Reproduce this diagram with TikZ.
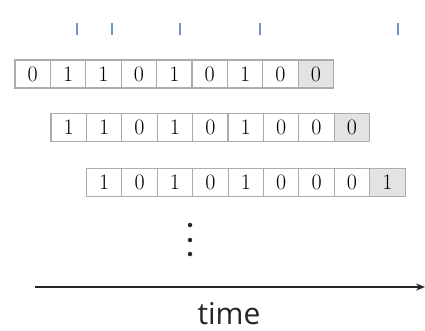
\documentclass[tikz,border=0pt]{standalone}
\usepackage{fontspec}
\newfontfamily\labelfont{Open Sans}
\usetikzlibrary{arrows.meta}
\definecolor{tickblue}{RGB}{110,150,200}
\begin{document}
\begin{tikzpicture}[x=1pt,y=-1pt,
  bitcell/.style={draw=gray!65, line width=1.1pt, minimum width=35.4pt, minimum height=28pt,
    inner sep=0pt, outer sep=0pt, font=\fontsize{22}{22}\selectfont, text=black},
  lastcell/.style={bitcell, fill=gray!22},
  tickmark/.style={draw=tickblue, line width=1.4pt},
  dotmark/.style={fill=black!85, circle, inner sep=0pt, minimum size=4.5pt},
  timeaxis/.style={draw=black!85, line width=1.6pt, -{Stealth[length=9pt,width=7pt]}}]
\useasboundingbox (0,0) rectangle (425,330);
% event ticks above the registers
\foreach \i/\x in {1/77,2/112,3/180,4/260,5/398}{
  \coordinate (t\i a) at (\x,23);
  \coordinate (t\i b) at (\x,35);
  \draw[tickmark] (t\i a) -- (t\i b);
}
% three shifted registers, the newest bit is shaded
\foreach \r/\x/\y/\bits in {1/15/74/{0,1,1,0,1,0,1,0,0},
                             2/51/127.5/{1,1,0,1,0,1,0,0,0},
                             3/86.5/182.5/{1,0,1,0,1,0,0,0,1}}{
  \foreach \b [count=\c] in \bits {
    \ifnum\c=9
      \node[lastcell] (r\r c\c) at (\x+35.4*\c-17.7,\y) {\b};
    \else
      \node[bitcell] (r\r c\c) at (\x+35.4*\c-17.7,\y) {\b};
    \fi
  }
}
% continuation dots
\node[dotmark] (d1) at (190,225) {};
\node[dotmark] (d2) at (190,240) {};
\node[dotmark] (d3) at (190,254) {};
% time axis
\coordinate (axstart) at (35,287);
\coordinate (axend) at (425,287);
\draw[timeaxis] (axstart) -- (axend);
\node[font=\labelfont\fontsize{30}{30}\selectfont, text=black!85, anchor=base, inner sep=0pt] (timelbl) at (229,324) {time};
\end{tikzpicture}
\end{document}
